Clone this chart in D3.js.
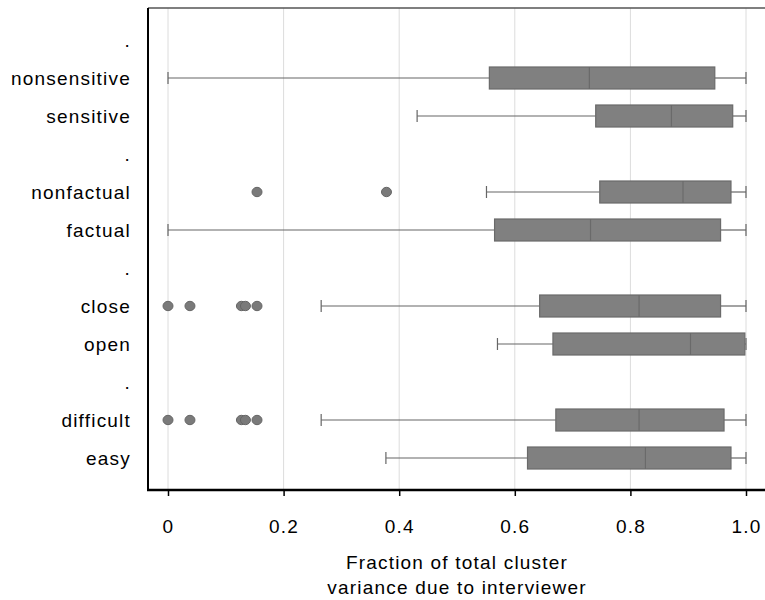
<!DOCTYPE html>
<html><head><meta charset="utf-8">
<script src="https://cdn.jsdelivr.net/npm/d3@7"></script>
<style>body{margin:0;background:#fff;}svg{display:block;font-family:"Liberation Sans",Arial,sans-serif;}</style>
</head><body>
<svg id="chart" width="765" height="600"></svg>
<script>
// Row labels (top to bottom); "." rows are empty spacer categories
const categories = [".", "nonsensitive", "sensitive", ".", "nonfactual", "factual", ".", "close", "open", ".", "difficult", "easy"];
const whiskerLow  = [null, 0.000, 0.431, null, 0.551, 0.000, null, 0.265, 0.570, null, 0.265, 0.377];
const q1          = [null, 0.556, 0.740, null, 0.747, 0.565, null, 0.643, 0.666, null, 0.671, 0.622];
const medians     = [null, 0.729, 0.871, null, 0.891, 0.731, null, 0.815, 0.904, null, 0.815, 0.826];
const q3          = [null, 0.946, 0.977, null, 0.974, 0.956, null, 0.956, 0.998, null, 0.962, 0.974];
const whiskerHigh = [null, 1.000, 1.000, null, 1.000, 1.000, null, 1.000, 1.000, null, 1.000, 1.000];
const outliers    = [[], [], [], [], [0.154, 0.378], [], [], [0, 0.038, 0.127, 0.134, 0.154], [], [], [0, 0.038, 0.127, 0.134, 0.154], []];
const xTicks = [0, 0.2, 0.4, 0.6, 0.8, 1.0];
const xTickLabels = ["0", "0.2", "0.4", "0.6", "0.8", "1.0"];

const FONT = "'Liberation Sans',Arial,sans-serif";
const FS = 19, LS = "1.2px";
const svg = d3.select("#chart");
const plot = {left: 148, top: 8, right: 765, bottom: 490};
const x = d3.scaleLinear().domain([0, 1]).range([168, 746]);
const ids = categories.map((c, i) => i);
const y = d3.scalePoint().domain(ids).range([plot.top, plot.bottom]).padding(0.842);

// gridlines
svg.append("g").selectAll("line").data(xTicks).join("line")
  .attr("x1", d => x(d)).attr("x2", d => x(d))
  .attr("y1", plot.top).attr("y2", plot.bottom)
  .attr("stroke", "#dcdcdc").attr("stroke-width", 1);

const rows = ids.filter(i => q1[i] !== null).map(i => ({i, lo: whiskerLow[i], q1: q1[i], med: medians[i], q3: q3[i], hi: whiskerHigh[i], out: outliers[i]}));
const boxH = 22, capH = 12;
const g = svg.append("g");
// whiskers
g.selectAll(".wl").data(rows).join("line")
  .attr("x1", d => x(d.lo)).attr("x2", d => x(d.q1)).attr("y1", d => y(d.i)).attr("y2", d => y(d.i))
  .attr("stroke", "#666").attr("stroke-width", 1.2);
g.selectAll(".wh").data(rows).join("line")
  .attr("x1", d => x(d.q3)).attr("x2", d => x(d.hi)).attr("y1", d => y(d.i)).attr("y2", d => y(d.i))
  .attr("stroke", "#666").attr("stroke-width", 1.2);
g.selectAll(".cl").data(rows).join("line")
  .attr("x1", d => x(d.lo)).attr("x2", d => x(d.lo)).attr("y1", d => y(d.i) - capH/2).attr("y2", d => y(d.i) + capH/2)
  .attr("stroke", "#666").attr("stroke-width", 1.2);
g.selectAll(".ch").data(rows).join("line")
  .attr("x1", d => x(d.hi)).attr("x2", d => x(d.hi)).attr("y1", d => y(d.i) - capH/2).attr("y2", d => y(d.i) + capH/2)
  .attr("stroke", "#666").attr("stroke-width", 1.2);
// boxes
g.selectAll("rect").data(rows).join("rect")
  .attr("x", d => x(d.q1)).attr("width", d => x(d.q3) - x(d.q1))
  .attr("y", d => y(d.i) - boxH/2).attr("height", boxH)
  .attr("fill", "#808080").attr("stroke", "#6a6a6a").attr("stroke-width", 1.2);
g.selectAll(".med").data(rows).join("line")
  .attr("x1", d => x(d.med)).attr("x2", d => x(d.med)).attr("y1", d => y(d.i) - boxH/2).attr("y2", d => y(d.i) + boxH/2)
  .attr("stroke", "#6a6a6a").attr("stroke-width", 1.2);
// outliers
const pts = rows.flatMap(r => r.out.map(v => ({i: r.i, v})));
g.selectAll("ellipse").data(pts).join("ellipse")
  .attr("cx", d => x(d.v)).attr("cy", d => y(d.i)).attr("rx", 5).attr("ry", 4.7)
  .attr("fill", "#7a7a7a").attr("stroke", "#666").attr("stroke-width", 1);

// frame
svg.append("line").attr("x1", plot.left).attr("x2", plot.right).attr("y1", plot.top).attr("y2", plot.top).attr("stroke", "#555").attr("stroke-width", 1.5);
svg.append("line").attr("x1", plot.left).attr("x2", plot.left).attr("y1", plot.top).attr("y2", plot.bottom).attr("stroke", "#000").attr("stroke-width", 2);

// x axis
const xAxis = d3.axisBottom(x).tickValues(xTicks).tickFormat((d, i) => xTickLabels[i]).tickSize(6).tickPadding(24);
const ax = svg.append("g").attr("transform", `translate(0,${plot.bottom})`).call(xAxis);
ax.select(".domain").remove();
ax.selectAll(".tick line").attr("stroke", "#000").attr("stroke-width", 1.5);
ax.selectAll(".tick text").attr("font-size", FS).attr("fill", "#000").attr("font-family", FONT).attr("letter-spacing", LS);
svg.append("line").attr("x1", plot.left - 1).attr("x2", plot.right).attr("y1", plot.bottom).attr("y2", plot.bottom).attr("stroke", "#000").attr("stroke-width", 2.5);

// y labels
svg.append("g").selectAll("text").data(ids).join("text")
  .attr("x", 131).attr("y", i => y(i)).attr("dy", "0.35em")
  .attr("text-anchor", "end").attr("font-size", FS).attr("fill", "#000").attr("letter-spacing", LS)
  .text(i => categories[i]);

// axis title
const title = svg.append("text").attr("text-anchor", "middle").attr("font-size", FS).attr("fill", "#000").attr("letter-spacing", LS);
title.append("tspan").attr("x", x(0.5)).attr("y", 569).text("Fraction of total cluster");
title.append("tspan").attr("x", x(0.5)).attr("y", 594).text("variance due to interviewer");
</script>
</body></html>
